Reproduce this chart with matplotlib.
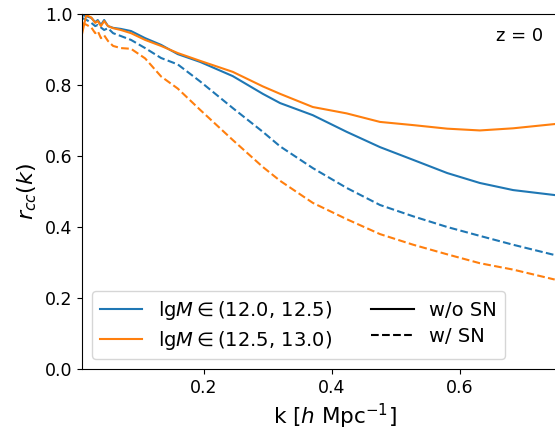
import matplotlib
matplotlib.use("Agg")
import matplotlib.pyplot as plt
from matplotlib.lines import Line2D

# wavenumber samples [h/Mpc]
k = [0.009, 0.016, 0.024, 0.030, 0.034, 0.039, 0.044, 0.050, 0.058, 0.070,
     0.086, 0.108, 0.133, 0.159, 0.194, 0.245, 0.292, 0.319, 0.370, 0.423,
     0.475, 0.527, 0.580, 0.631, 0.683, 0.748]

# lgM in (12.0, 12.5)
blue_noSN = [0.997, 0.994, 0.989, 0.977, 0.983, 0.969, 0.983, 0.966, 0.961, 0.958,
             0.952, 0.932, 0.913, 0.887, 0.865, 0.825, 0.775, 0.749, 0.715, 0.668,
             0.625, 0.589, 0.552, 0.524, 0.504, 0.490]
blue_SN = [0.989, 0.984, 0.975, 0.966, 0.969, 0.962, 0.955, 0.960, 0.946, 0.938,
           0.927, 0.904, 0.876, 0.858, 0.810, 0.735, 0.668, 0.627, 0.566, 0.510,
           0.462, 0.430, 0.400, 0.375, 0.350, 0.321]
# lgM in (12.5, 13.0)
orange_noSN = [0.940, 0.997, 0.990, 0.975, 0.980, 0.966, 0.980, 0.966, 0.960, 0.955,
               0.946, 0.927, 0.910, 0.890, 0.868, 0.837, 0.796, 0.775, 0.738, 0.720,
               0.696, 0.687, 0.677, 0.672, 0.678, 0.690]
orange_SN = [0.975, 0.970, 0.962, 0.946, 0.952, 0.932, 0.940, 0.924, 0.910, 0.904,
             0.902, 0.875, 0.824, 0.790, 0.730, 0.645, 0.569, 0.530, 0.468, 0.422,
             0.380, 0.350, 0.323, 0.298, 0.280, 0.252]

mass_labels = [r"lg$M\in$(12.0, 12.5)", r"lg$M\in$(12.5, 13.0)"]
style_labels = ["w/o SN", "w/ SN"]

W, H = 555, 432
fig = plt.figure(figsize=(W / 100, H / 100), dpi=100)
ax = fig.add_axes([82 / W, (H - 369) / H, 506 / W, 355 / H])

c1, c2 = "tab:blue", "tab:orange"
ax.plot(k, blue_noSN, color=c1, lw=1.5, ls="-")
ax.plot(k, blue_SN, color=c1, lw=1.5, ls="--")
ax.plot(k, orange_noSN, color=c2, lw=1.5, ls="-")
ax.plot(k, orange_SN, color=c2, lw=1.5, ls="--")

ax.set_xlim(0.0094, 0.8)
ax.set_ylim(0.0, 1.0)
ax.set_xticks([0.2, 0.4, 0.6])
ax.set_yticks([0.0, 0.2, 0.4, 0.6, 0.8, 1.0])
ax.tick_params(labelsize=12.5)
ax.set_xlabel(r"k [$h$ Mpc$^{-1}$]", fontsize=15.5)
ax.set_ylabel(r"$r_{cc}(k)$", fontsize=16)

handles = [Line2D([], [], color=c1, lw=1.5),
           Line2D([], [], color=c2, lw=1.5),
           Line2D([], [], color="black", lw=1.5, ls="-"),
           Line2D([], [], color="black", lw=1.5, ls="--")]
labels = mass_labels + style_labels
ax.legend(handles, labels, loc="lower left", ncol=2, fontsize=14,
          handlelength=2.2, labelspacing=0.35)

fig.text(543 / W, 1 - 36 / H, "z = 0", ha="right", va="center", fontsize=13)

fig.savefig("out.png", dpi=100)
